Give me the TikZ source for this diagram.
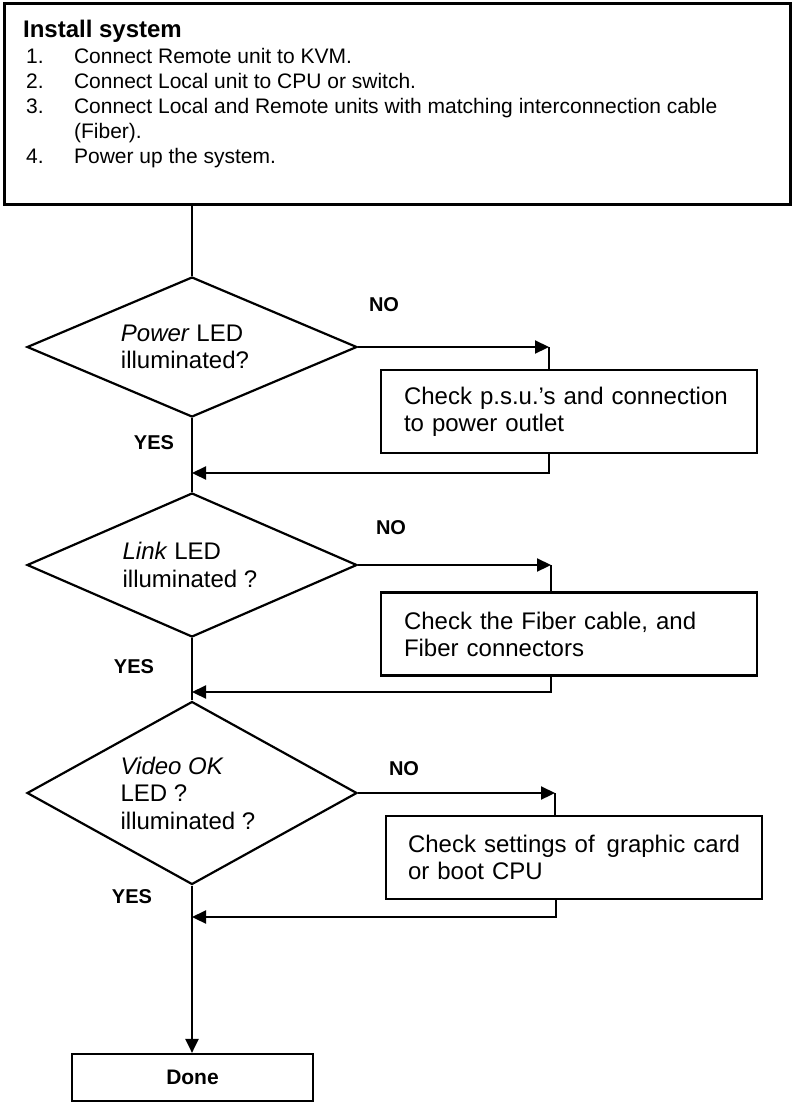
\documentclass[tikz,border=0pt]{standalone}
\usepackage{fontspec}
\setmainfont{Liberation Sans}
\usetikzlibrary{shapes.geometric,arrows.meta}

\begin{document}
\begin{tikzpicture}[x=1pt,y=-1pt,line width=2.2pt,
    query/.style={diamond,draw,aspect=2.3,align=left,inner sep=0pt,
        font=\fontsize{24}{27.5}\selectfont},
    checkbox/.style={draw,rectangle,align=left,text width=330pt,
        inner xsep=23pt,inner ysep=0pt,minimum height=83pt,
        font=\fontsize{24}{27}\selectfont},
    answer/.style={font=\bfseries\fontsize{20}{24}\selectfont},
    flow/.style={-{Triangle[length=14pt,width=13pt]}}]
    \useasboundingbox (0,0) rectangle (792,1103);
    % install box
    \node[draw,line width=3pt,minimum width=786pt,minimum height=201pt,inner sep=0pt] (install) at (397,103.5) {};
    \node[anchor=north west,inner sep=0pt,align=left,font=\fontsize{21}{25}\selectfont] (steps) at (22,19)
        {{\fontsize{24}{28}\selectfont\bfseries Install system}\\[1.5pt]
         \hspace*{3pt}\makebox[48pt][l]{1.}Connect Remote unit to KVM.\\
         \hspace*{3pt}\makebox[48pt][l]{2.}Connect Local unit to CPU or switch.\\
         \hspace*{3pt}\makebox[48pt][l]{3.}Connect Local and Remote units with matching interconnection cable\\
         \hspace*{3pt}\makebox[48pt][l]{}(Fiber).\\
         \hspace*{3pt}\makebox[48pt][l]{4.}Power up the system.};
    % questions
    \node[query,minimum width=330pt,minimum height=140pt] (d1) at (192,347) {\textit{Power} LED\\illuminated?\hspace*{14pt}};
    \node[query,minimum width=330pt,minimum height=144pt] (d2) at (192,565) {\textit{Link} LED\\illuminated ?\hspace*{4pt}};
    \node[query,aspect=1.8,minimum width=330pt,minimum height=183pt] (d3) at (192,793) {\textit{Video OK}\\LED ?\\illuminated ?\hspace*{8pt}};
    % checks
    \node[checkbox] (b1) at (569,411.5) {Check p.s.u.'s and connection\\to power outlet};
    \node[checkbox] (b2) at (569,634) {Check the Fiber cable, and\\Fiber connectors};
    \node[checkbox,text width=340pt,inner xsep=18pt] (b3) at (574,857.5) {\hspace*{4pt}Check settings of \,graphic card\\\hspace*{4pt}or boot CPU};
    \node[draw,minimum width=241pt,minimum height=47pt,inner sep=0pt,font=\bfseries\fontsize{21}{25}\selectfont] (done) at (192.5,1077.5) {Done};
    % answers
    \node[answer] (no1) at (384,305) {NO};
    \node[answer] (no2) at (391,528) {NO};
    \node[answer] (no3) at (404,769) {NO};
    \node[answer] (yes1) at (154,443) {YES};
    \node[answer] (yes2) at (134,667) {YES};
    \node[answer] (yes3) at (132,897) {YES};
    % trunk
    \draw (install.south -| d1.north) -- (d1.north);
    \draw (d1.south) -- (d2.north);
    \draw (d2.south) -- (d3.north);
    \draw[flow] (d3.south) -- (d3.south |- done.north);
    % branches
    \coordinate (t1) at (549,347);
    \coordinate (r1) at (549,473);
    \coordinate (t2) at (551,565);
    \coordinate (r2) at (551,692);
    \coordinate (t3) at (555,793);
    \coordinate (r3) at (556,917);
    \draw[flow] (d1.east) -- (t1);
    \draw (t1) -- (t1 |- b1.north);
    \draw[flow] (r1 |- b1.south) -- (r1) -- (r1 -| d1.south);
    \draw[flow] (d2.east) -- (t2);
    \draw (t2) -- (t2 |- b2.north);
    \draw[flow] (r2 |- b2.south) -- (r2) -- (r2 -| d2.south);
    \draw[flow] (d3.east) -- (t3);
    \draw (t3) -- (t3 |- b3.north);
    \draw[flow] (r3 |- b3.south) -- (r3) -- (r3 -| d3.north);
\end{tikzpicture}
\end{document}
